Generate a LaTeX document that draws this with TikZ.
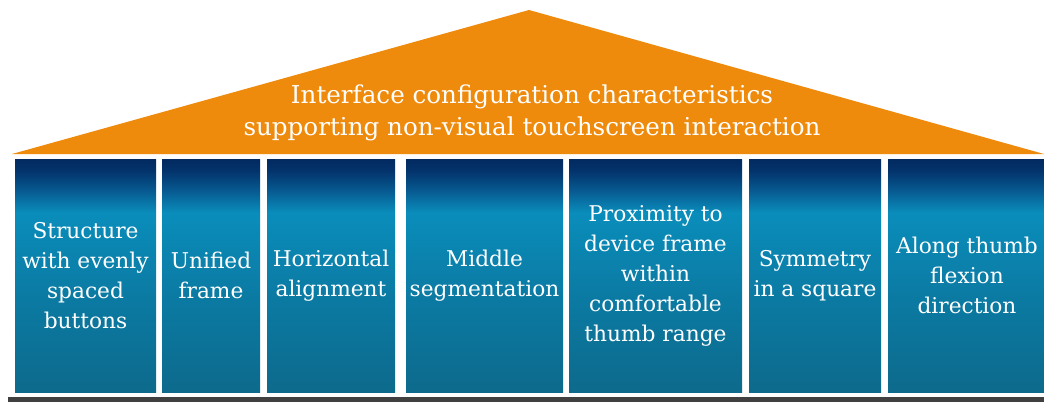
\documentclass[tikz,border=0pt]{standalone}
\usepackage{fontspec}
\setmainfont{DejaVu Serif}
\definecolor{roofc}{RGB}{238,138,12}
\definecolor{barc}{RGB}{64,64,64}
\definecolor{cbot}{RGB}{13,106,140}
\definecolor{clow}{RGB}{11,122,162}
\definecolor{cbright}{RGB}{10,141,187}
\definecolor{cmidd}{RGB}{7,92,147}
\definecolor{cnavy}{RGB}{3,51,107}
\definecolor{ctop}{RGB}{2,42,96}
\pgfdeclareverticalshading{colshade}{100bp}{color(0bp)=(cbot); color(25bp)=(cbot); color(45bp)=(clow); color(63.5bp)=(cbright); color(68bp)=(cmidd); color(72.5bp)=(cnavy); color(75bp)=(ctop); color(100bp)=(ctop)}
\tikzset{
  colbox/.style={shading=colshade, inner sep=0pt, minimum height=233pt, text=white, align=center, font=\fontsize{21.7}{30}\selectfont},
  rooftext/.style={text=white, align=center, font=\fontsize{24.6}{32}\selectfont}
}
\begin{document}
\begin{tikzpicture}[x=1pt,y=-1pt]
\useasboundingbox (0,0) rectangle (1044,402);
% roof
\fill[roofc] (12,154) -- (529,10) -- (1044,154) -- cycle;
\node[rooftext] (roof) at (532,112.5) {Interface configuration characteristics\\supporting non-visual touchscreen interaction};
% columns
\node[colbox, minimum width=141pt] (c1) at (85.5,275.5) {Structure\\with evenly\\spaced\\buttons};
\node[colbox, minimum width=98pt] (c2) at (211,275.5) {Unified\\frame};
\node[colbox, minimum width=128pt] (c3) at (331,275.5) {Horizontal\\alignment};
\node[colbox, minimum width=157pt] (c4) at (484.5,275.5) {Middle\\segmentation};
\node[colbox, minimum width=173pt] (c5) at (655.5,275.5) {Proximity to\\device frame\\within\\comfortable\\thumb range};
\node[colbox, minimum width=132pt] (c6) at (815,275.5) {Symmetry\\in a square};
\node[colbox, minimum width=158pt] (c7) at (967,275.5) {Along thumb\\flexion\\direction};
% base bar
\fill[barc] (8,397) rectangle (1044,402);
\end{tikzpicture}
\end{document}
